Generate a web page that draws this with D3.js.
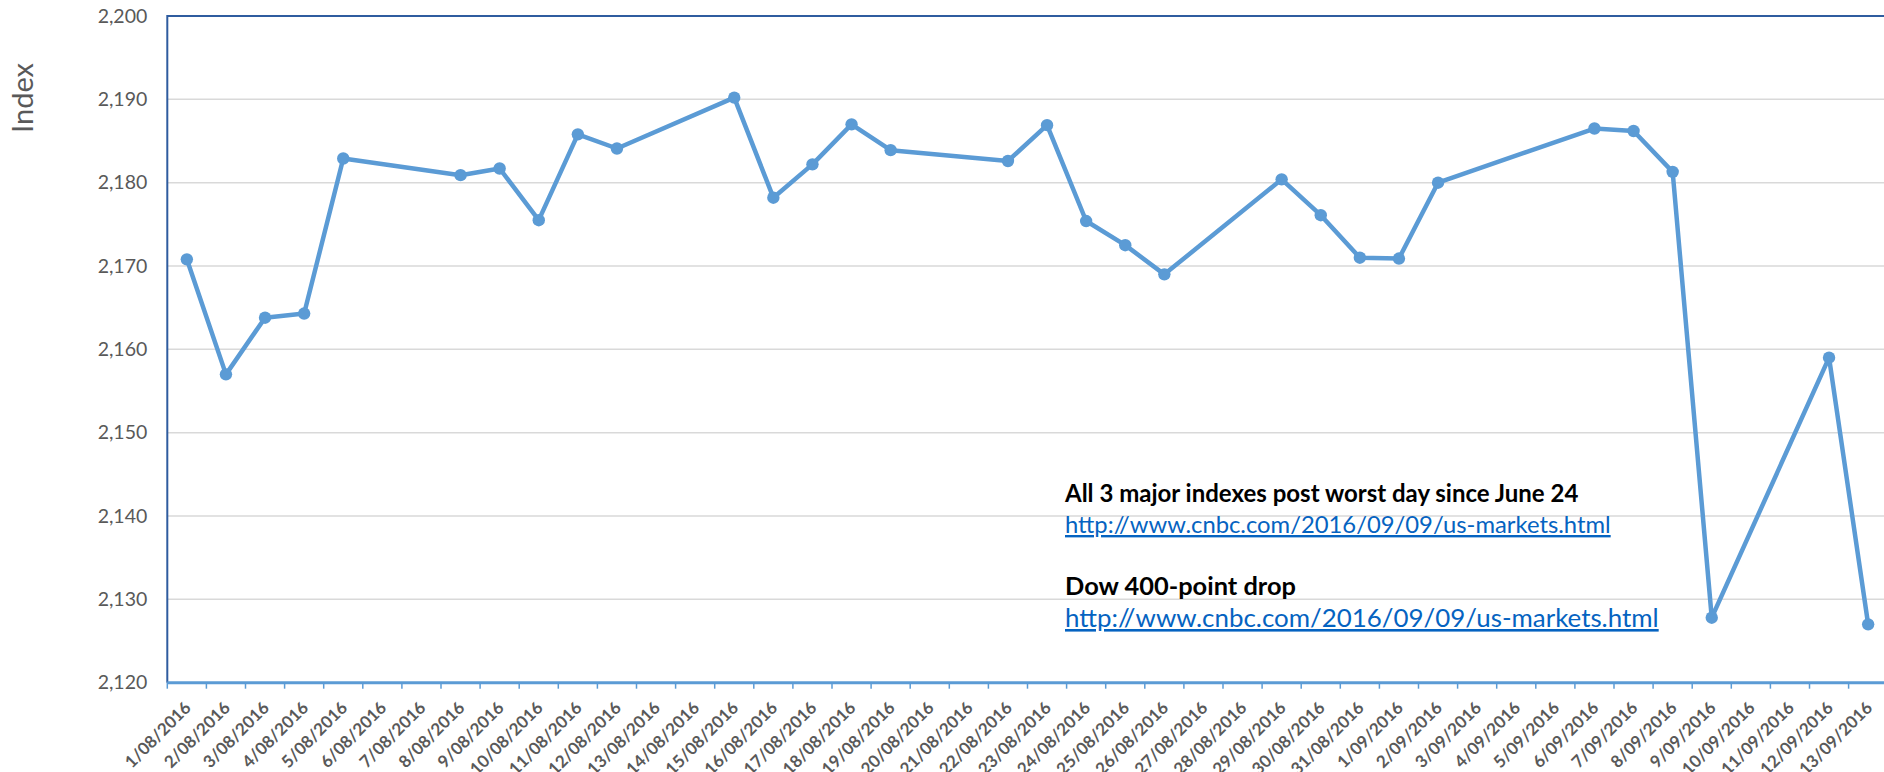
<!DOCTYPE html>
<html>
<head>
<meta charset="utf-8">
<script src="https://cdn.jsdelivr.net/npm/d3@7"></script>
<style>
  body { margin: 0; background: #fff; }
  svg { display: block; font-family: Lato, "Open Sans", sans-serif; }
</style>
</head>
<body>
<div class="chart"></div>
<script>
// 图表大小
const width = 1884
const height = 772

// x 轴：每天一个刻度标签
const axisDays = [
  "1/08/2016", "2/08/2016", "3/08/2016", "4/08/2016", "5/08/2016", "6/08/2016", "7/08/2016",
  "8/08/2016", "9/08/2016", "10/08/2016", "11/08/2016", "12/08/2016", "13/08/2016", "14/08/2016",
  "15/08/2016", "16/08/2016", "17/08/2016", "18/08/2016", "19/08/2016", "20/08/2016", "21/08/2016",
  "22/08/2016", "23/08/2016", "24/08/2016", "25/08/2016", "26/08/2016", "27/08/2016", "28/08/2016",
  "29/08/2016", "30/08/2016", "31/08/2016", "1/09/2016", "2/09/2016", "3/09/2016", "4/09/2016",
  "5/09/2016", "6/09/2016", "7/09/2016", "8/09/2016", "9/09/2016", "10/09/2016", "11/09/2016",
  "12/09/2016", "13/09/2016"
]

// 交易日与收盘指数
const tradeDays = [
  "1/08/2016", "2/08/2016", "3/08/2016", "4/08/2016", "5/08/2016",
  "8/08/2016", "9/08/2016", "10/08/2016", "11/08/2016", "12/08/2016",
  "15/08/2016", "16/08/2016", "17/08/2016", "18/08/2016", "19/08/2016",
  "22/08/2016", "23/08/2016", "24/08/2016", "25/08/2016", "26/08/2016",
  "29/08/2016", "30/08/2016", "31/08/2016", "1/09/2016", "2/09/2016",
  "6/09/2016", "7/09/2016", "8/09/2016", "9/09/2016",
  "12/09/2016", "13/09/2016"
]
const closeValues = [
  2170.8, 2157.0, 2163.8, 2164.3, 2182.9,
  2180.9, 2181.7, 2175.5, 2185.8, 2184.1,
  2190.2, 2178.2, 2182.2, 2187.0, 2183.9,
  2182.6, 2186.9, 2175.4, 2172.5, 2169.0,
  2180.4, 2176.1, 2171.0, 2170.9, 2180.0,
  2186.5, 2186.2, 2181.3, 2127.8,
  2159.0, 2127.0
]

// y 轴刻度
const yTicks = [2120, 2130, 2140, 2150, 2160, 2170, 2180, 2190, 2200]

// 注释文字
const noteTitles = ["All 3 major indexes post worst day since June 24", "Dow 400-point drop"]
const noteLinks = ["http://www.cnbc.com/2016/09/09/us-markets.html", "http://www.cnbc.com/2016/09/09/us-markets.html"]

const plot = { left: 167.3, top: 16, bottom: 682.7, step: 39.1 }
plot.right = plot.left + plot.step * axisDays.length

const svg = d3.select(".chart").append("svg")
  .attr("width", width)
  .attr("height", height)

// 比例尺
const x = d3.scaleBand()
  .domain(axisDays)
  .range([plot.left, plot.right])
  .padding(0)

const y = d3.scaleLinear()
  .domain([yTicks[0], yTicks[yTicks.length - 1]])
  .range([plot.bottom, plot.top])

// 网格线
svg.append("g")
  .selectAll("line")
  .data(yTicks.slice(1, -1))
  .enter()
  .append("line")
  .attr("x1", plot.left)
  .attr("x2", plot.right)
  .attr("y1", d => y(d))
  .attr("y2", d => y(d))
  .attr("stroke", "#d9d9d9")
  .attr("stroke-width", 1.5)

// 绘图区边框（上、左）
svg.append("path")
  .attr("d", `M${plot.left},${plot.bottom} V${plot.top} H${plot.right}`)
  .attr("fill", "none")
  .attr("stroke", "#2f5c9f")
  .attr("stroke-width", 2)

// y 轴标签
const yAxis = d3.axisLeft(y)
  .tickValues(yTicks)
  .tickFormat(d3.format(","))
  .tickSize(0)
  .tickPadding(20)

svg.append("g")
  .attr("transform", `translate(${plot.left},0)`)
  .call(yAxis)
  .call(g => g.select(".domain").remove())
  .selectAll("text")
  .attr("fill", "#595959")
  .attr("font-family", "Lato, 'Open Sans', sans-serif")
  .attr("font-size", "19.5px")

// y 轴标题
svg.append("text")
  .text("Index")
  .attr("transform", "translate(33,98) rotate(-90)")
  .attr("text-anchor", "middle")
  .attr("fill", "#595959")
  .attr("font-size", "29px")

// x 轴线与刻度
svg.append("line")
  .attr("x1", plot.left)
  .attr("x2", plot.right)
  .attr("y1", plot.bottom)
  .attr("y2", plot.bottom)
  .attr("stroke", "#5b9bd5")
  .attr("stroke-width", 3)

svg.append("g")
  .selectAll("line")
  .data(axisDays.concat(["end"]))
  .enter()
  .append("line")
  .attr("x1", (d, i) => plot.left + i * x.bandwidth())
  .attr("x2", (d, i) => plot.left + i * x.bandwidth())
  .attr("y1", plot.bottom)
  .attr("y2", plot.bottom + 6)
  .attr("stroke", "#5b9bd5")
  .attr("stroke-width", 1.5)

// x 轴标签（-45 度）
svg.append("g")
  .selectAll("text")
  .data(axisDays)
  .enter()
  .append("text")
  .text(d => d)
  .attr("transform", d => `translate(${x(d) + x.bandwidth() / 2 + 1},${plot.bottom + 22}) rotate(-45)`)
  .attr("text-anchor", "end")
  .attr("dy", "0.35em")
  .attr("fill", "#595959")
  .attr("font-weight", "bold")
  .attr("font-size", "17px")

// 折线
const points = tradeDays.map((d, i) => ({ day: d, value: closeValues[i] }))

const line = d3.line()
  .x(d => x(d.day) + x.bandwidth() / 2)
  .y(d => y(d.value))

svg.append("path")
  .datum(points)
  .attr("d", line)
  .attr("fill", "none")
  .attr("stroke", "#5b9bd5")
  .attr("stroke-width", 4.5)
  .attr("stroke-linejoin", "round")

svg.append("g")
  .selectAll("circle")
  .data(points)
  .enter()
  .append("circle")
  .attr("cx", d => x(d.day) + x.bandwidth() / 2)
  .attr("cy", d => y(d.value))
  .attr("r", 6.2)
  .attr("fill", "#5b9bd5")

// 注释
const notes = svg.append("g")
const noteX = 1065
const titleY = [502, 595]
const linkY = [533, 627]
const titleSize = ["24px", "25.4px"]
const linkSize = ["23.8px", "25.9px"]

noteTitles.forEach(function (t, i) {
  notes.append("text")
    .text(t)
    .attr("x", noteX)
    .attr("y", titleY[i])
    .attr("fill", "#000")
    .attr("font-weight", "bold")
    .attr("font-size", titleSize[i])
  notes.append("text")
    .text(noteLinks[i])
    .attr("x", noteX)
    .attr("y", linkY[i])
    .attr("fill", "#0563c1")
    .attr("text-decoration", "underline")
    .attr("font-size", linkSize[i])
})
</script>
</body>
</html>
